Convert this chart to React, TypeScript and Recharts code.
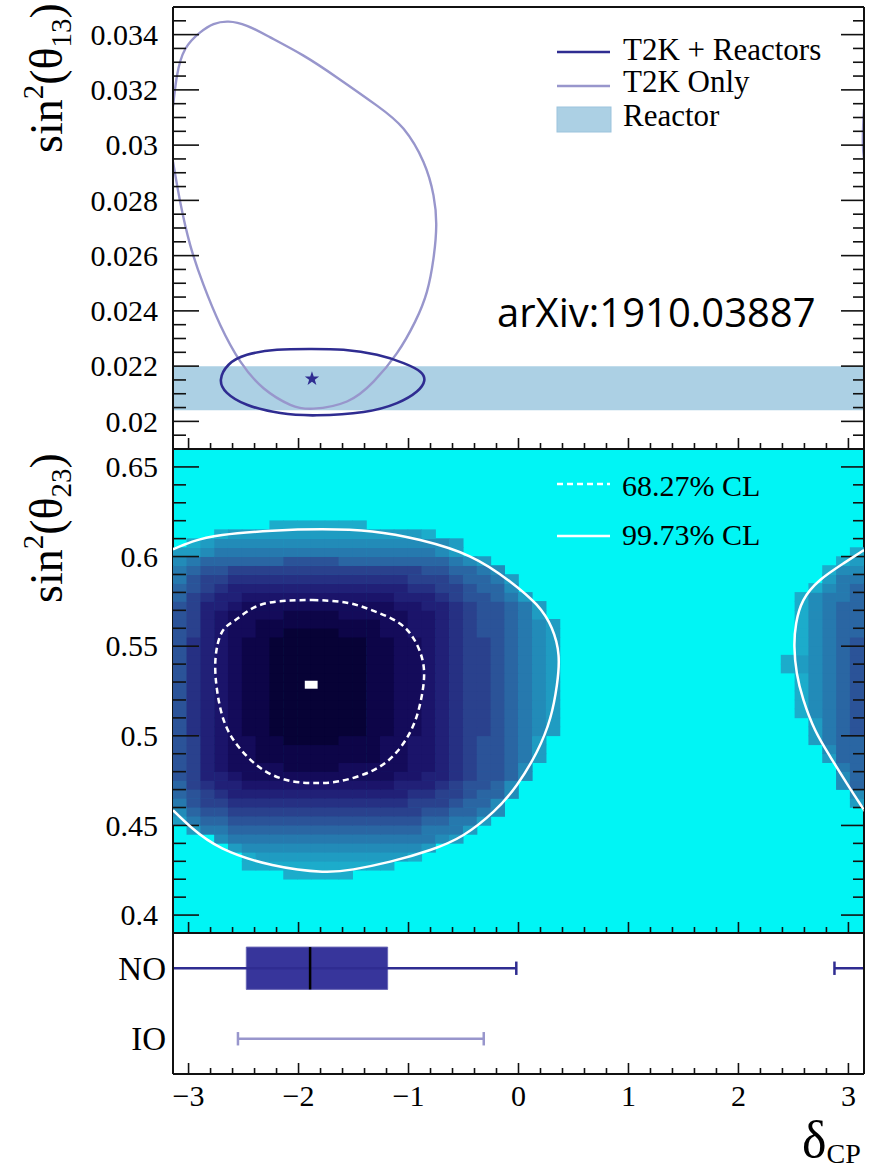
import React from 'react'
import {
  ComposedChart,
  Line,
  Scatter,
  XAxis,
  YAxis,
  ReferenceArea,
  ReferenceLine,
} from 'recharts'

const PI = Math.PI
const SERIF = '"Liberation Serif", "Times New Roman", Times, serif'
const SANS = '"Open Sans", "Noto Sans", sans-serif'

const DARK = '#2f2c91'
const LIGHT = '#9896cc'
const REACTOR = '#acd0e4'
const CYAN = '#00f5f5'
const FRAME = '#111'

// shared δCP axis
const xDomain = [-PI, PI]
const xMajorTicks = [-3, -2, -1, 0, 1, 2, 3]
const xMinorTicks = [
  -2.8, -2.6, -2.4, -2.2, -1.8, -1.6, -1.4, -1.2, -0.8, -0.6, -0.4, -0.2,
  0.2, 0.4, 0.6, 0.8, 1.2, 1.4, 1.6, 1.8, 2.2, 2.4, 2.6, 2.8,
]
const xTickLabels = ['−3', '−2', '−1', '0', '1', '2', '3']

// sin²θ13 panel
const th13Domain = [0.019, 0.035]
const th13MajorTicks = [0.02, 0.022, 0.024, 0.026, 0.028, 0.03, 0.032, 0.034]
const th13TickLabels = ['0.02', '0.022', '0.024', '0.026', '0.028', '0.03', '0.032', '0.034']
const th13MinorTicks = [
  0.0195, 0.0205, 0.021, 0.0215, 0.0225, 0.023, 0.0235, 0.0245, 0.025, 0.0255,
  0.0265, 0.027, 0.0275, 0.0285, 0.029, 0.0295, 0.0305, 0.031, 0.0315, 0.0325,
  0.033, 0.0335, 0.0345,
]
const reactorBand = [0.0204, 0.022]

const t2kOnlyContour = [
  { x: -3.1416, y: 0.0314 },
  { x: -3.105, y: 0.03252 },
  { x: -3.03, y: 0.03348 },
  { x: -2.894, y: 0.03408 },
  { x: -2.773, y: 0.03438 },
  { x: -2.636, y: 0.03447 },
  { x: -2.469, y: 0.03432 },
  { x: -2.257, y: 0.0339 },
  { x: -1.955, y: 0.03324 },
  { x: -1.651, y: 0.03245 },
  { x: -1.287, y: 0.03143 },
  { x: -1.045, y: 0.03059 },
  { x: -0.864, y: 0.02939 },
  { x: -0.773, y: 0.02818 },
  { x: -0.748, y: 0.0271 },
  { x: -0.773, y: 0.0259 },
  { x: -0.833, y: 0.02469 },
  { x: -0.94, y: 0.02361 },
  { x: -1.105, y: 0.02247 },
  { x: -1.318, y: 0.02144 },
  { x: -1.56, y: 0.02072 },
  { x: -1.864, y: 0.02046 },
  { x: -2.075, y: 0.0206 },
  { x: -2.318, y: 0.0212 },
  { x: -2.53, y: 0.02217 },
  { x: -2.712, y: 0.02349 },
  { x: -2.864, y: 0.02494 },
  { x: -2.985, y: 0.02638 },
  { x: -3.076, y: 0.02794 },
  { x: -3.1416, y: 0.0294 },
]
// the same contour wrapping round to +π
const t2kOnlyWrap = [
  { x: 3.1416, y: 0.0313 },
  { x: 3.134, y: 0.0307 },
  { x: 3.132, y: 0.03 },
  { x: 3.1416, y: 0.0295 },
]
const t2kReactorContour = [
  { x: -1.894, y: 0.02262 },
  { x: -1.591, y: 0.02259 },
  { x: -1.287, y: 0.02241 },
  { x: -1.045, y: 0.02211 },
  { x: -0.894, y: 0.0218 },
  { x: -0.857, y: 0.02147 },
  { x: -0.924, y: 0.02108 },
  { x: -1.105, y: 0.02066 },
  { x: -1.409, y: 0.02034 },
  { x: -1.833, y: 0.02022 },
  { x: -2.166, y: 0.0203 },
  { x: -2.469, y: 0.0206 },
  { x: -2.651, y: 0.02103 },
  { x: -2.706, y: 0.02151 },
  { x: -2.636, y: 0.02205 },
  { x: -2.469, y: 0.02241 },
  { x: -2.196, y: 0.02259 },
  { x: -1.894, y: 0.02262 },
]
const bestFit13 = [{ x: -1.878, y: 0.02154 }]

// sin²θ23 panel
const th23Domain = [0.39, 0.66]
const th23MajorTicks = [0.4, 0.45, 0.5, 0.55, 0.6, 0.65]
const th23TickLabels = ['0.4', '0.45', '0.5', '0.55', '0.6', '0.65']
const th23MinorTicks = [
  0.41, 0.42, 0.43, 0.44, 0.46, 0.47, 0.48, 0.49, 0.51, 0.52, 0.53, 0.54,
  0.56, 0.57, 0.58, 0.59, 0.61, 0.62, 0.63, 0.64,
]

const cl68Contour = [
  { x: -1.875, y: 0.5758 },
  { x: -1.573, y: 0.5744 },
  { x: -1.33, y: 0.57 },
  { x: -1.105, y: 0.5637 },
  { x: -0.955, y: 0.5544 },
  { x: -0.864, y: 0.5395 },
  { x: -0.878, y: 0.5228 },
  { x: -0.955, y: 0.506 },
  { x: -1.105, y: 0.4911 },
  { x: -1.33, y: 0.4805 },
  { x: -1.633, y: 0.4746 },
  { x: -1.845, y: 0.4737 },
  { x: -2.057, y: 0.4746 },
  { x: -2.3, y: 0.4802 },
  { x: -2.512, y: 0.4914 },
  { x: -2.664, y: 0.506 },
  { x: -2.739, y: 0.5246 },
  { x: -2.755, y: 0.5432 },
  { x: -2.694, y: 0.5581 },
  { x: -2.573, y: 0.5646 },
  { x: -2.391, y: 0.572 },
  { x: -2.148, y: 0.5752 },
  { x: -1.875, y: 0.5758 },
]
const cl997Contour = [
  { x: -3.1416, y: 0.604 },
  { x: -2.966, y: 0.6083 },
  { x: -2.694, y: 0.612 },
  { x: -2.239, y: 0.6144 },
  { x: -1.785, y: 0.6152 },
  { x: -1.33, y: 0.614 },
  { x: -0.894, y: 0.6092 },
  { x: -0.439, y: 0.6 },
  { x: -0.075, y: 0.586 },
  { x: 0.167, y: 0.573 },
  { x: 0.303, y: 0.56 },
  { x: 0.364, y: 0.545 },
  { x: 0.349, y: 0.5283 },
  { x: 0.288, y: 0.5098 },
  { x: 0.167, y: 0.4911 },
  { x: -0.015, y: 0.4726 },
  { x: -0.227, y: 0.4577 },
  { x: -0.5, y: 0.4447 },
  { x: -0.803, y: 0.4363 },
  { x: -1.166, y: 0.4298 },
  { x: -1.5, y: 0.4255 },
  { x: -1.785, y: 0.4242 },
  { x: -2.239, y: 0.4279 },
  { x: -2.694, y: 0.4372 },
  { x: -2.966, y: 0.4484 },
  { x: -3.1416, y: 0.4585 },
]
const cl997Wrap = [
  { x: 3.1416, y: 0.6037 },
  { x: 2.955, y: 0.5962 },
  { x: 2.743, y: 0.5869 },
  { x: 2.591, y: 0.5757 },
  { x: 2.525, y: 0.5628 },
  { x: 2.509, y: 0.5497 },
  { x: 2.531, y: 0.5349 },
  { x: 2.591, y: 0.52 },
  { x: 2.697, y: 0.5032 },
  { x: 2.834, y: 0.4884 },
  { x: 2.985, y: 0.4735 },
  { x: 3.122, y: 0.4605 },
  { x: 3.1416, y: 0.4586 },
]
const bestFit23 = [{ x: -1.885, y: 0.5285 }]

// posterior histogram: 50 δCP bins, sin²θ23 bins of 0.005 from 0.39.
// one string per bin row starting at heatRowFirst; '.' = empty, 1..d = shade level
const dcpBins = 50
const th23BinStart = 0.39
const th23BinWidth = 0.005
const heatRowFirst = 6
const heatLeft = [
  '........11111',
  '.....11111111111',
  '.....1222222222221',
  '....233333333333332',
  '...344444444444444432',
  '.244555555555555554442',
  '24556666666666666655442',
  '356677777777777777665543',
  '467788888888888887776553',
  '5678999999999999988776553',
  '57899aaaaaaaaaaa999876653',
  '6799abbbbbbbbbbbaa99876653',
  '679abbbbccccbbbbbaa9876653',
  '679abbcccccccccbbaa98766542',
  '679abbcccccccccbbaa98766542',
  '679abbccddddcccbbaa98766542',
  '689abccdddddddccbba987765432',
  '689abccdddddddccbba987765432',
  '689abccdddddddccbba987765432',
  '689abccdddddddccbba987765432',
  '689abccdddddddccbba987765432',
  '689abccdddddddccbba987765432',
  '689abccdddddddccbba987765432',
  '689abccdddddddccbba987765432',
  '689abccdddddddccbba987765432',
  '689abccdddddddccbba987765432',
  '689abccdddddddccbba987765432',
  '679abbccddddcccbbaa987665432',
  '679abbcccccccccbbaa987665432',
  '679abbbbccccbbbbbaa98766542',
  '6799abbbbbbbbbbbaa998766542',
  '57899aaaaaaaaaaa9998766542',
  '5678999999999999988776553',
  '4677888888888888877765542',
  '456677777777777777665543',
  '34555555666655555555432',
  '223444444444444444432',
  '.12333333333333333332',
  '...1222222222222221',
  '.......1111111',
]
const heatRight = [
  '', '', '', '', '', '', '', '', '2', '3', '35', '35', '45', '255', '355', '2455',
  '2456', '2456', '13456', '13456', '13456', '13456', '13456', '123456', '123456',
  '13456', '13456', '13455', '13455', '13455', '13455', '13445', '1345', '244',
  '133', '12', '1', '', '', '',
]
const heatColors = [
  '', '#1caccb', '#1f9cc2', '#228bb8', '#2679ae', '#2a66a3', '#2b5398',
  '#2a418d', '#263083', '#212077', '#1b146a', '#140b5a', '#0d0548', '#070236',
]

// mass ordering intervals
const orderingRows = [3, 1]
const orderingLabels = ['NO', 'IO']
const noBox = [-2.475, -1.19]
const noMedian = -1.895
const noInterval = [-3.1416, -0.02]
const noWrapInterval = [2.873, 3.1416]
const ioInterval = [-2.551, -0.316]

// layout
const W = 869
const LEFT_W = 173
const RIGHT_W = 5
const PLOT_W = W - LEFT_W - RIGHT_W
const MID_H = 486
const MID_PLOT_H = MID_H - 2
const NO_MARGIN = { top: 0, right: 0, bottom: 0, left: 0 }
const AXIS_LINE = { stroke: FRAME, strokeWidth: 2 }
const TICK_FONT = 30

const xTicks = [...xMinorTicks, ...xMajorTicks]
const th13Ticks = [...th13MinorTicks, ...th13MajorTicks]
const th23Ticks = [...th23MinorTicks, ...th23MajorTicks]

const near = (a: number, b: number) => Math.abs(a - b) < 1e-9

const xTick = (side: 'top' | 'bottom', labels?: string[]) => (p: any) => {
  const v = p.payload.value
  const i = xMajorTicks.findIndex((m) => near(m, v))
  const len = i >= 0 ? 11 : 6
  const dir = side === 'top' ? 1 : -1
  return (
    <g>
      <line x1={p.x} x2={p.x} y1={p.y} y2={p.y + dir * len} stroke={FRAME} strokeWidth={1.6} />
      {labels && i >= 0 && (
        <text x={p.x} y={p.y + 32} textAnchor="middle" fontFamily={SERIF} fontSize={TICK_FONT} fill="#000">
          {labels[i]}
        </text>
      )}
    </g>
  )
}

const yTick = (side: 'left' | 'right', majors: number[], labels?: string[]) => (p: any) => {
  const v = p.payload.value
  const i = majors.findIndex((m) => near(m, v))
  const dir = side === 'left' ? 1 : -1
  const len = side === 'left' ? (i >= 0 ? 26 : 13) : i >= 0 ? 23 : 11
  return (
    <g>
      <line x1={p.x} x2={p.x + dir * len} y1={p.y} y2={p.y} stroke={FRAME} strokeWidth={1.6} />
      {labels && i >= 0 && (
        <text x={p.x - 15} y={p.y} dy="0.34em" textAnchor="end" fontFamily={SERIF} fontSize={TICK_FONT} fill="#000">
          {labels[i]}
        </text>
      )}
    </g>
  )
}

const starShape = (p: any) => {
  const pts: string[] = []
  for (let i = 0; i < 10; i++) {
    const r = i % 2 === 0 ? 7.5 : 3
    const a = -PI / 2 + (i * PI) / 5
    pts.push(`${p.cx + r * Math.cos(a)},${p.cy + r * Math.sin(a)}`)
  }
  return <polygon points={pts.join(' ')} fill={DARK} />
}

const heatCells: { x: number; y: number; level: number }[] = []
heatLeft.forEach((row, r) => {
  const y = th23BinStart + (heatRowFirst + r + 0.5) * th23BinWidth
  const place = (s: string, first: number) => {
    for (let i = 0; i < s.length; i++) {
      if (s[i] === '.') continue
      heatCells.push({ x: -PI + ((first + i + 0.5) * 2 * PI) / dcpBins, y, level: parseInt(s[i], 36) })
    }
  }
  place(row, 0)
  place(heatRight[r], dcpBins - heatRight[r].length)
})

const cellW = PLOT_W / dcpBins
const cellH = (MID_PLOT_H * th23BinWidth) / (th23Domain[1] - th23Domain[0])

const heatShape = (p: any) => (
  <rect
    x={p.cx - cellW / 2 - 0.3}
    y={p.cy - cellH / 2 - 0.3}
    width={cellW + 0.6}
    height={cellH + 0.6}
    fill={heatColors[p.payload.level]}
  />
)

const bestFitShape = (p: any) => (
  <rect x={p.cx - cellW / 2 + 0.5} y={p.cy - cellH / 2 + 0.5} width={cellW - 1} height={cellH - 1} fill="#fff" />
)

const axisCommon = {
  type: 'number' as const,
  allowDataOverflow: true,
  interval: 0 as const,
  tickSize: 0,
  tickMargin: 0,
  tickLine: false,
  axisLine: AXIS_LINE,
}

function Theta13Panel() {
  return (
    <ComposedChart width={W} height={450} margin={NO_MARGIN}>
      <ReferenceArea x1={xDomain[0]} x2={xDomain[1]} y1={reactorBand[0]} y2={reactorBand[1]} fill={REACTOR} fillOpacity={1} stroke="none" />
      <Line data={t2kOnlyContour} dataKey="y" type="natural" stroke={LIGHT} strokeWidth={2.4} dot={false} activeDot={false} isAnimationActive={false} />
      <Line data={t2kOnlyWrap} dataKey="y" type="natural" stroke={LIGHT} strokeWidth={2.4} dot={false} activeDot={false} isAnimationActive={false} />
      <Line data={t2kReactorContour} dataKey="y" type="natural" stroke={DARK} strokeWidth={2.6} dot={false} activeDot={false} isAnimationActive={false} />
      <Scatter data={bestFit13} shape={starShape} isAnimationActive={false} />
      <XAxis {...axisCommon} dataKey="x" domain={xDomain} ticks={xTicks} height={1} tick={xTick('bottom')} />
      <XAxis {...axisCommon} xAxisId="top" orientation="top" domain={xDomain} ticks={xTicks} height={7} tick={xTick('top')} />
      <YAxis {...axisCommon} dataKey="y" domain={th13Domain} ticks={th13Ticks} width={LEFT_W} tick={yTick('left', th13MajorTicks, th13TickLabels)} />
      <YAxis {...axisCommon} yAxisId="right" orientation="right" domain={th13Domain} ticks={th13Ticks} width={RIGHT_W} tick={yTick('right', th13MajorTicks)} />
    </ComposedChart>
  )
}

// posterior histogram with its frame and ticks
function Theta23Panel() {
  return (
    <ComposedChart width={W} height={MID_H} margin={NO_MARGIN}>
      <ReferenceArea x1={xDomain[0]} x2={xDomain[1]} y1={th23Domain[0]} y2={th23Domain[1]} fill={CYAN} fillOpacity={1} stroke="none" />
      <Scatter data={heatCells} shape={heatShape} isAnimationActive={false} />
      <Scatter data={bestFit23} shape={bestFitShape} isAnimationActive={false} />
      <XAxis {...axisCommon} dataKey="x" domain={xDomain} ticks={xTicks} height={1} tick={xTick('bottom')} />
      <XAxis {...axisCommon} xAxisId="top" orientation="top" domain={xDomain} ticks={xTicks} height={1} tick={xTick('top')} />
      <YAxis {...axisCommon} dataKey="y" domain={th23Domain} ticks={th23Ticks} width={LEFT_W} tick={yTick('left', th23MajorTicks, th23TickLabels)} />
      <YAxis {...axisCommon} yAxisId="right" orientation="right" domain={th23Domain} ticks={th23Ticks} width={RIGHT_W} tick={yTick('right', th23MajorTicks)} />
    </ComposedChart>
  )
}

// credible-interval contours, laid over the histogram on the same scales
function Theta23Contours() {
  return (
    <ComposedChart width={W} height={MID_H} margin={{ top: 1, right: RIGHT_W, bottom: 1, left: LEFT_W }}>
      <XAxis hide type="number" dataKey="x" domain={xDomain} allowDataOverflow />
      <YAxis hide type="number" dataKey="y" domain={th23Domain} allowDataOverflow />
      <Line data={cl68Contour} dataKey="y" type="natural" stroke="#fff" strokeWidth={2.5} strokeDasharray="6 4" dot={false} activeDot={false} isAnimationActive={false} />
      <Line data={cl997Contour} dataKey="y" type="natural" stroke="#fff" strokeWidth={2.5} dot={false} activeDot={false} isAnimationActive={false} />
      <Line data={cl997Wrap} dataKey="y" type="natural" stroke="#fff" strokeWidth={2.5} dot={false} activeDot={false} isAnimationActive={false} />
    </ComposedChart>
  )
}

const orderingTick = (p: any) => {
  const i = orderingRows.findIndex((r) => near(r, p.payload.value))
  if (i < 0) return <g />
  return (
    <text x={p.x - 7} y={p.y} dy="0.35em" textAnchor="end" fontFamily={SERIF} fontSize={33} fill="#000">
      {orderingLabels[i]}
    </text>
  )
}

function OrderingPanel() {
  const no = orderingRows[0]
  const io = orderingRows[1]
  const cap = 0.19
  const whisker = { stroke: DARK, strokeWidth: 2.5, ifOverflow: 'hidden' as const }
  const ioLine = { stroke: LIGHT, strokeWidth: 2.5, ifOverflow: 'hidden' as const }
  return (
    <ComposedChart width={W} height={241} margin={NO_MARGIN}>
      <ReferenceLine segment={[{ x: noInterval[0], y: no }, { x: noInterval[1], y: no }]} {...whisker} />
      <ReferenceLine segment={[{ x: noInterval[1], y: no - cap }, { x: noInterval[1], y: no + cap }]} {...whisker} />
      <ReferenceLine segment={[{ x: noWrapInterval[0], y: no }, { x: noWrapInterval[1], y: no }]} {...whisker} />
      <ReferenceLine segment={[{ x: noWrapInterval[0], y: no - cap }, { x: noWrapInterval[0], y: no + cap }]} {...whisker} />
      <ReferenceArea x1={noBox[0]} x2={noBox[1]} y1={no - 0.6} y2={no + 0.6} fill="#37359b" fillOpacity={1} stroke="#6866b6" strokeWidth={1} />
      <ReferenceLine segment={[{ x: noMedian, y: no - 0.6 }, { x: noMedian, y: no + 0.6 }]} stroke="#000" strokeWidth={2.5} />
      <ReferenceLine segment={[{ x: ioInterval[0], y: io }, { x: ioInterval[1], y: io }]} {...ioLine} />
      <ReferenceLine segment={[{ x: ioInterval[0], y: io - cap }, { x: ioInterval[0], y: io + cap }]} {...ioLine} />
      <ReferenceLine segment={[{ x: ioInterval[1], y: io - cap }, { x: ioInterval[1], y: io + cap }]} {...ioLine} />
      <XAxis {...axisCommon} dataKey="x" domain={xDomain} ticks={xTicks} height={99} tick={xTick('bottom', xTickLabels)} />
      <XAxis {...axisCommon} xAxisId="top" orientation="top" domain={xDomain} ticks={xTicks} height={1} tick={xTick('top')} />
      <YAxis {...axisCommon} dataKey="y" domain={[0, 4]} ticks={orderingRows} width={LEFT_W} tick={orderingTick} />
      <YAxis {...axisCommon} yAxisId="right" orientation="right" domain={[0, 4]} ticks={[]} tick={false} width={RIGHT_W} />
    </ComposedChart>
  )
}

function Annotations() {
  const t = { fontFamily: SERIF, fill: '#000' }
  return (
    <svg width={W} height={1173} style={{ position: 'absolute', left: 0, top: 0, pointerEvents: 'none' }}>
      {/* axis titles */}
      <text transform="translate(62,78) rotate(-90)" textAnchor="middle" fontSize={46} {...t}>
        sin<tspan fontSize={29} dy={-19}>2</tspan>
        <tspan dy={19}>(θ</tspan>
        <tspan fontSize={29} dy={9}>13</tspan>
        <tspan dy={-9}>)</tspan>
      </text>
      <text transform="translate(62,528) rotate(-90)" textAnchor="middle" fontSize={46} {...t}>
        sin<tspan fontSize={29} dy={-19}>2</tspan>
        <tspan dy={19}>(θ</tspan>
        <tspan fontSize={29} dy={9}>23</tspan>
        <tspan dy={-9}>)</tspan>
      </text>
      <text x={802} y={1157} fontSize={52} {...t}>
        δ<tspan fontSize={28} dy={6}>CP</tspan>
      </text>

      {/* top legend */}
      <line x1={557} x2={610} y1={52} y2={52} stroke={DARK} strokeWidth={2.5} />
      <text x={623} y={60} fontSize={31} {...t}>T2K + Reactors</text>
      <line x1={557} x2={610} y1={86} y2={86} stroke={LIGHT} strokeWidth={2.5} />
      <text x={623} y={92} fontSize={31} {...t}>T2K Only</text>
      <rect x={557} y={107} width={54} height={25} fill={REACTOR} stroke="#9cc4dd" />
      <text x={623} y={126} fontSize={31} {...t}>Reactor</text>

      <text x={497} y={327} fontFamily={SANS} fontSize={40} fill="#000">arXiv:1910.03887</text>

      {/* contour legend */}
      <line x1={557} x2={610} y1={484} y2={484} stroke="#fff" strokeWidth={2.5} strokeDasharray="6 4" />
      <text x={622} y={496} fontSize={30} {...t}>68.27% CL</text>
      <line x1={557} x2={610} y1={536} y2={536} stroke="#fff" strokeWidth={2.5} />
      <text x={622} y={545} fontSize={30} {...t}>99.73% CL</text>
    </svg>
  )
}

export default function App() {
  return (
    <div style={{ position: 'absolute', left: 0, top: 0, width: W, height: 1173, background: '#fff' }}>
      <div style={{ position: 'absolute', left: 0, top: 0 }}>
        <Theta13Panel />
      </div>
      <div style={{ position: 'absolute', left: 0, top: 448 }}>
        <Theta23Panel />
      </div>
      <div style={{ position: 'absolute', left: 0, top: 448 }}>
        <Theta23Contours />
      </div>
      <div style={{ position: 'absolute', left: 0, top: 932 }}>
        <OrderingPanel />
      </div>
      <Annotations />
    </div>
  )
}
